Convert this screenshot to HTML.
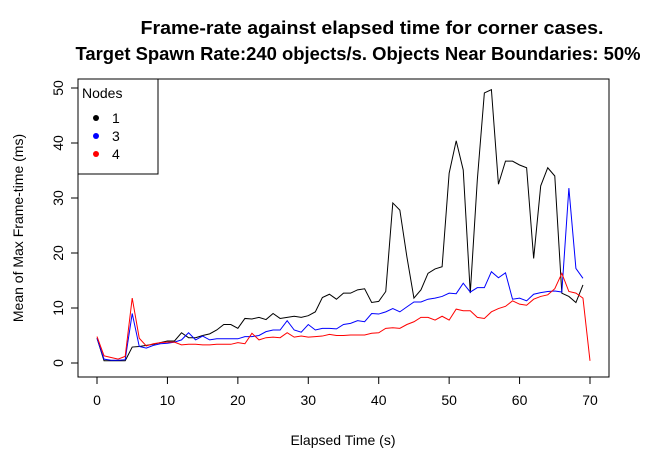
<!DOCTYPE html>
<html><head><meta charset="utf-8"><style>
body{margin:0;background:#fff;}
svg{display:block;font-family:"Liberation Sans",Arial,sans-serif;}
</style></head><body>
<svg id="chart" width="648" height="472" viewBox="0 0 648 472">
<text x="372" y="34" text-anchor="middle" font-size="18" font-weight="bold" textLength="463" lengthAdjust="spacingAndGlyphs">Frame-rate against elapsed time for corner cases.</text>
<text x="358" y="60" text-anchor="middle" font-size="18" font-weight="bold" textLength="565" lengthAdjust="spacingAndGlyphs">Target Spawn Rate:240 objects/s. Objects Near Boundaries: 50%</text>
<rect x="78" y="79" width="531" height="298" fill="none" stroke="#000"/>
<g id="axes"></g>
<g id="series"></g>
<text x="343" y="445" text-anchor="middle" font-size="14">Elapsed Time (s)</text>
<text transform="translate(23,228) rotate(-90)" text-anchor="middle" font-size="14">Mean of Max Frame-time (ms)</text>
<g>
<rect x="78" y="79" width="80" height="95" fill="#fff" stroke="#000"/>
<text x="82" y="98" font-size="14">Nodes</text>
<circle cx="96" cy="118" r="3" fill="#000"/>
<text x="112" y="123" font-size="14">1</text>
<circle cx="96" cy="136" r="3" fill="#0000ff"/>
<text x="112" y="141" font-size="14">3</text>
<circle cx="96" cy="154" r="3" fill="#ff0000"/>
<text x="112" y="159" font-size="14">4</text>
</g>
</svg>
<script>
const xTicks=[0,10,20,30,40,50,60,70];
const yTicks=[0,10,20,30,40,50];
const node1=[4.5,0.4,0.4,0.4,0.4,2.9,3.0,3.2,3.4,3.7,4.0,4.0,5.5,4.6,4.6,5.0,5.3,6.0,7.0,7.0,6.3,8.1,8.0,8.3,7.9,9.0,8.1,8.3,8.5,8.3,8.6,9.3,11.9,12.5,11.6,12.7,12.7,13.3,13.5,11.0,11.2,13.0,29.1,27.8,19.3,11.8,13.3,16.3,17.1,17.5,34.5,40.4,35.1,12.7,33.3,49.1,49.7,32.5,36.7,36.7,36.0,35.5,19.0,32.2,35.5,34.0,12.7,12.1,11.0,14.2];
const node3=[4.5,0.7,0.5,0.5,0.6,9.0,3.0,2.7,3.2,3.5,3.6,3.8,4.2,5.5,4.2,4.9,4.2,4.4,4.4,4.4,4.4,4.8,4.8,5.0,5.7,6.0,6.0,7.7,6.0,5.6,7.0,6.0,6.3,6.3,6.2,7.0,7.2,7.7,7.5,9.0,8.9,9.3,9.9,9.3,10.2,11.1,11.1,11.6,11.8,12.1,12.7,12.6,14.5,12.9,13.7,13.7,16.6,15.5,16.4,11.6,11.8,11.3,12.5,12.8,13.0,13.1,12.9,31.8,17.2,15.4];
const node4=[4.8,1.3,1.0,0.7,1.2,11.8,4.5,3.1,3.5,3.7,3.8,3.8,3.3,3.4,3.4,3.3,3.3,3.4,3.4,3.4,3.7,3.5,5.4,4.2,4.6,4.7,4.6,5.5,4.7,4.9,4.7,4.8,4.9,5.2,5.0,5.0,5.1,5.1,5.1,5.4,5.5,6.3,6.4,6.3,7.0,7.5,8.3,8.3,7.8,8.5,7.8,9.8,9.5,9.5,8.3,8.1,9.3,9.9,10.3,11.3,10.7,10.5,11.6,12.1,12.4,13.5,16.3,13.0,12.7,11.8,0.4];
const NS="http://www.w3.org/2000/svg";
function xs(t){return 97+t*(493/70);}
function ys(v){return 363-v*5.5;}
const axes=document.getElementById('axes');
function mk(tag,attrs,parent){const e=document.createElementNS(NS,tag);for(const k in attrs)e.setAttribute(k,attrs[k]);parent.appendChild(e);return e;}
mk('line',{x1:xs(0),x2:xs(70),y1:377,y2:377,stroke:'#000'},axes);
xTicks.forEach(t=>{
  const l=mk('line',{x1:xs(t),x2:xs(t),y1:377,y2:384,stroke:'#000'},axes);
  
  
  const tx=mk('text',{x:xs(t),y:405,'text-anchor':'middle','font-size':'14'},axes);
  tx.textContent=t;
  
  
});
mk('line',{x1:78,x2:78,y1:ys(0),y2:ys(50),stroke:'#000'},axes);
yTicks.forEach(v=>{
  const l=mk('line',{x1:71,x2:78,y1:ys(v),y2:ys(v),stroke:'#000'},axes);
  
  
  const tx=mk('text',{transform:`translate(63,${ys(v)}) rotate(-90)`,'text-anchor':'middle','font-size':'14'},axes);
  tx.textContent=v;
  
  
});
const series=document.getElementById('series');
[[node1,'#000','series-nodes-1'],[node3,'#0000ff','series-nodes-3'],[node4,'#ff0000','series-nodes-4']].forEach(([d,c,n])=>{
  const p=mk('polyline',{points:d.map((v,i)=>xs(i)+','+ys(v)).join(' '),fill:'none',stroke:c,'stroke-width':'1'},series);
  
  
});
</script>
</body></html>
